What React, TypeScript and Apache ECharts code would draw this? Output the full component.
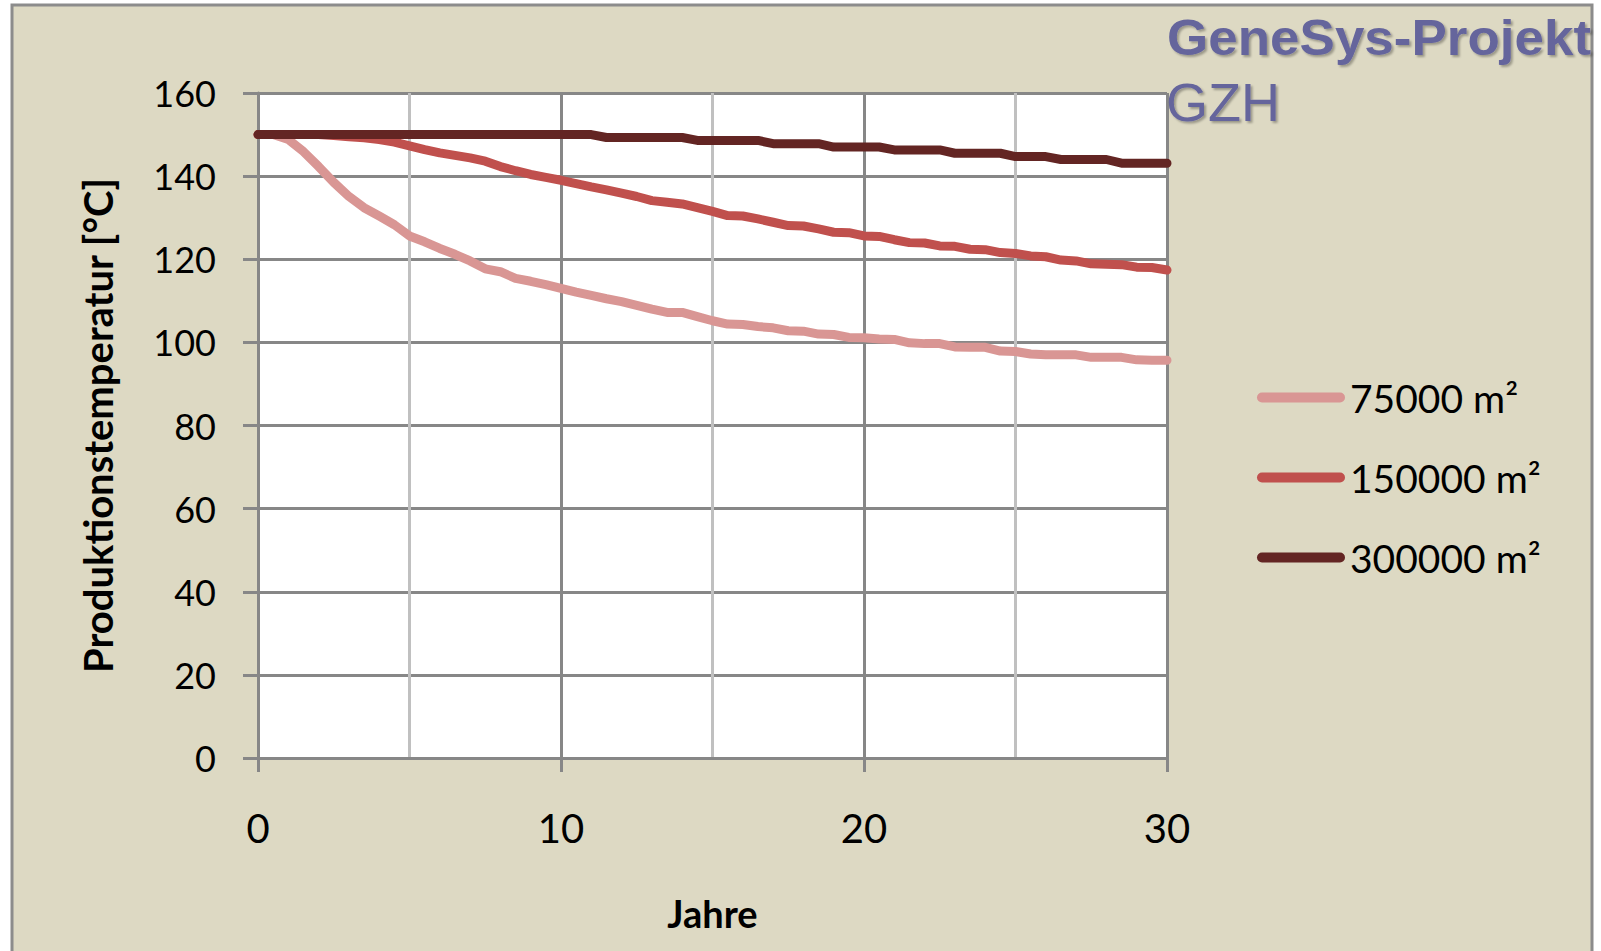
import React, { useEffect, useRef } from "react";
import * as echarts from "echarts";

const years = [
  0, 0.5, 1, 1.5, 2, 2.5, 3, 3.5, 4, 4.5, 5, 5.5, 6, 6.5, 7, 7.5, 8, 8.5, 9, 9.5,
  10, 10.5, 11, 11.5, 12, 12.5, 13, 13.5, 14, 14.5, 15, 15.5, 16, 16.5, 17, 17.5,
  18, 18.5, 19, 19.5, 20, 20.5, 21, 21.5, 22, 22.5, 23, 23.5, 24, 24.5, 25, 25.5,
  26, 26.5, 27, 27.5, 28, 28.5, 29, 29.5, 30,
];

const seriesNames = ["75000 m²", "150000 m²", "300000 m²"];

const temp75000 = [
  150, 150, 148.8, 145.9, 142.3, 138.5, 135.1, 132.4, 130.4, 128.3, 125.6, 124.2,
  122.6, 121.2, 119.6, 117.7, 117.0, 115.4, 114.7, 113.9, 113.0, 112.1, 111.3,
  110.5, 109.8, 108.9, 108.0, 107.2, 107.2, 106.2, 105.2, 104.4, 104.3, 103.8,
  103.5, 102.8, 102.7, 102.0, 101.9, 101.2, 101.1, 100.8, 100.7, 99.9, 99.7, 99.7,
  98.9, 98.8, 98.8, 97.9, 97.8, 97.2, 97.0, 97.0, 97.0, 96.4, 96.4, 96.4, 95.8,
  95.7, 95.7,
];

const temp150000 = [
  150, 150, 150, 150, 150, 149.8, 149.5, 149.2, 148.8, 148.2, 147.3, 146.4, 145.6,
  145.0, 144.4, 143.6, 142.3, 141.3, 140.4, 139.7, 139.0, 138.2, 137.4, 136.7,
  135.9, 135.1, 134.1, 133.7, 133.3, 132.4, 131.5, 130.5, 130.4, 129.7, 128.9,
  128.1, 128.0, 127.3, 126.5, 126.4, 125.6, 125.5, 124.7, 124.0, 123.9, 123.2,
  123.1, 122.4, 122.3, 121.6, 121.4, 120.8, 120.6, 119.8, 119.6, 118.9, 118.8,
  118.7, 118.1, 118.0, 117.4,
];

const temp300000 = [
  150, 150, 150, 150, 150, 150, 150, 150, 150, 150, 150, 150, 150, 150, 150, 150,
  150, 150, 150, 150, 150, 150, 150, 149.3, 149.3, 149.3, 149.3, 149.3, 149.3,
  148.6, 148.6, 148.6, 148.6, 148.6, 147.8, 147.8, 147.8, 147.8, 147.0, 147.0,
  147.0, 147.0, 146.3, 146.3, 146.3, 146.3, 145.5, 145.5, 145.5, 145.5, 144.7,
  144.7, 144.7, 144.0, 144.0, 144.0, 144.0, 143.1, 143.1, 143.1, 143.1,
];

const yTicks = { min: 0, max: 160, interval: 20 };
const xTicks = { min: 0, max: 30, interval: 10 };

const colors = ["#D99694", "#C0504D", "#632523"];

const legendIcon = "path://M5,0 L83,0 A5,5 0 0 1 83,10 L5,10 A5,5 0 0 1 5,0 Z";

export default function App() {
  const ref = useRef<HTMLDivElement>(null);

  useEffect(() => {
    document.body.style.margin = "0";
    if (!ref.current) return;
    const chart = echarts.init(ref.current, undefined, { renderer: "svg" });
    const allSeries = [temp75000, temp150000, temp300000];
    const gridColor = "#878787";

    chart.setOption({
      animation: false,
      backgroundColor: "#ffffff",
      textStyle: { fontFamily: "Lato" },
      graphic: [
        {
          type: "rect",
          z: -10,
          shape: { x: 12, y: 5, width: 1580, height: 970 },
          style: { fill: "#DDD9C3", stroke: "#8C8C8C", lineWidth: 3 },
        },
        {
          type: "text",
          z: 10,
          x: 1167,
          y: 38,
          scaleX: 1.06,
          style: {
            text: "GeneSys-Projekt",
            fontFamily: "Liberation Sans",
            fontWeight: "bold",
            fontSize: 50,
            fill: "#65659C",
            verticalAlign: "middle",
            align: "left",
            textShadowColor: "rgba(0,0,0,0.3)",
            textShadowOffsetX: 2,
            textShadowOffsetY: 2,
            textShadowBlur: 2,
          },
        },
        {
          type: "text",
          z: 10,
          x: 1166,
          y: 102,
          style: {
            text: "GZH",
            fontFamily: "Liberation Sans",
            fontSize: 54,
            fill: "#65659C",
            verticalAlign: "middle",
            align: "left",
            textShadowColor: "rgba(0,0,0,0.3)",
            textShadowOffsetX: 2,
            textShadowOffsetY: 2,
            textShadowBlur: 2,
          },
        },
      ],
      legend: {
        orient: "vertical",
        left: 1257,
        top: 378,
        itemWidth: 88,
        itemHeight: 10,
        itemGap: 41,
        icon: legendIcon,
        data: seriesNames,
        textStyle: {
          fontFamily: "Lato",
          fontSize: 39,
          lineHeight: 38,
          color: "#000000",
          padding: [0, 0, 0, 0],
        },
        padding: 0,
      },
      grid: {
        left: 258,
        right: 1601 - 1167,
        top: 93,
        bottom: 951 - 758,
        show: true,
        backgroundColor: "#ffffff",
        borderWidth: 0,
      },
      xAxis: {
        type: "value",
        min: xTicks.min,
        max: xTicks.max,
        interval: xTicks.interval,
        name: "Jahre",
        nameLocation: "middle",
        nameGap: 136,
        nameTextStyle: {
          fontFamily: "Lato",
          fontWeight: "bold",
          fontSize: 38,
          color: "#000000",
        },
        axisLine: { show: true, lineStyle: { color: gridColor, width: 3 } },
        axisTick: { show: true, length: 14, lineStyle: { color: gridColor, width: 3 } },
        axisLabel: { fontSize: 40, color: "#000000", margin: 50, fontFamily: "Lato" },
        splitLine: { show: true, lineStyle: { color: gridColor, width: 3 } },
        minorTick: { show: false, splitNumber: 2 },
        minorSplitLine: { show: true, lineStyle: { color: "#C0C0C0", width: 3 } },
      },
      yAxis: {
        type: "value",
        min: yTicks.min,
        max: yTicks.max,
        interval: yTicks.interval,
        name: "Produktionstemperatur [°C]",
        nameLocation: "middle",
        nameGap: 140,
        nameTextStyle: {
          fontFamily: "Lato",
          fontWeight: "bold",
          fontSize: 40,
          color: "#000000",
        },
        axisLine: { show: true, lineStyle: { color: gridColor, width: 3 } },
        axisTick: { show: true, length: 15, lineStyle: { color: gridColor, width: 3 } },
        axisLabel: { fontSize: 36, color: "#000000", margin: 42, fontFamily: "Lato" },
        splitLine: { show: true, lineStyle: { color: gridColor, width: 3 } },
      },
      series: allSeries.map((vals, i) => ({
        name: seriesNames[i],
        type: "line",
        showSymbol: false,
        symbol: "none",
        color: colors[i],
        lineStyle: { width: 9, color: colors[i], cap: "round", join: "round" },
        itemStyle: { color: colors[i] },
        data: years.map((t, j) => [t, vals[j]]),
        z: 3 + i,
      })),
    });

    return () => {
      chart.dispose();
    };
  }, []);

  return <div ref={ref} style={{ width: 1601, height: 951 }} />;
}
